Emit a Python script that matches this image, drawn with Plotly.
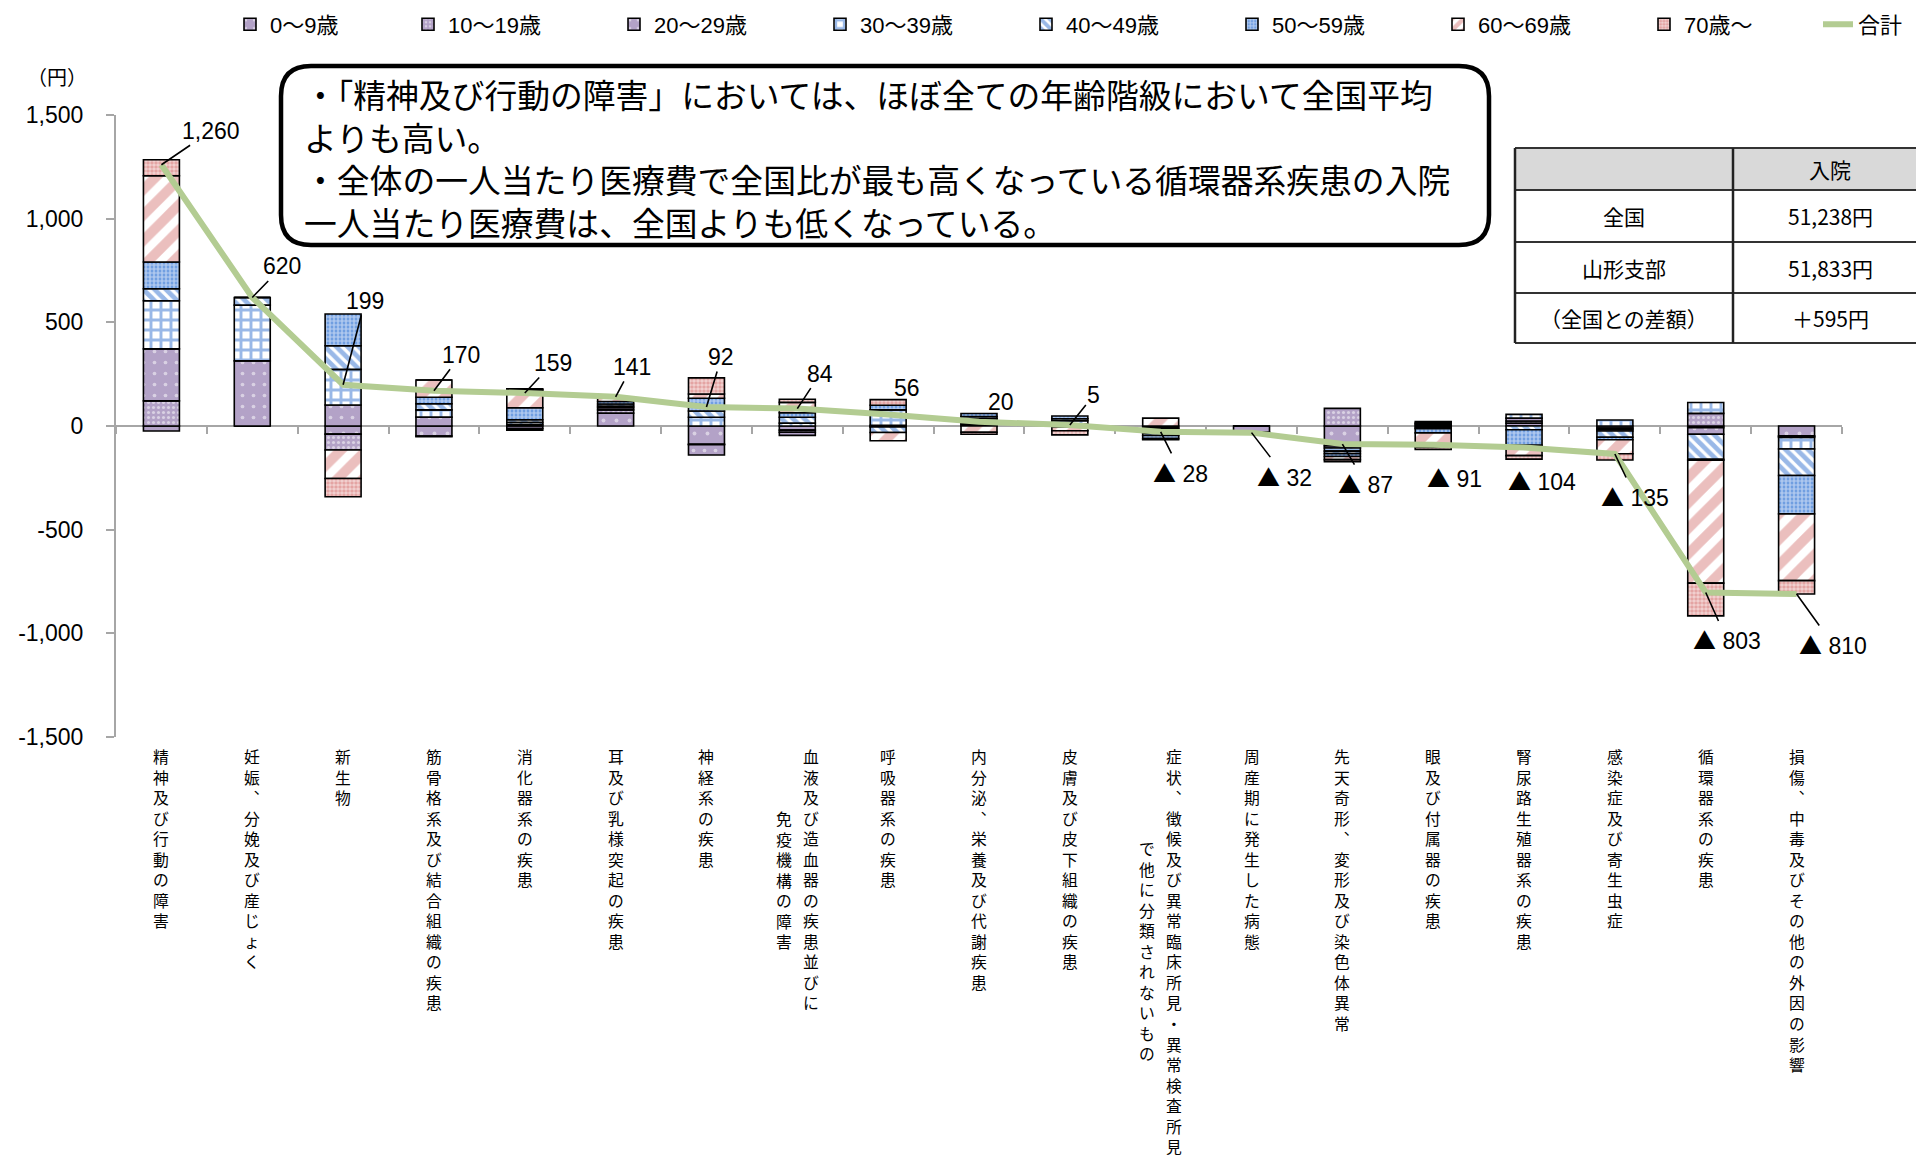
import plotly.graph_objects as go

# ---------------- data ----------------
categories = [
    "精神及び行動の障害",
    "妊娠、分娩及び産じょく",
    "新生物",
    "筋骨格系及び結合組織の疾患",
    "消化器系の疾患",
    "耳及び乳様突起の疾患",
    "神経系の疾患",
    "血液及び造血器の疾患並びに\n免疫機構の障害",
    "呼吸器系の疾患",
    "内分泌、栄養及び代謝疾患",
    "皮膚及び皮下組織の疾患",
    "症状、徴候及び異常臨床所見・異常検査所見\nで他に分類されないもの",
    "周産期に発生した病態",
    "先天奇形、変形及び染色体異常",
    "眼及び付属器の疾患",
    "腎尿路生殖器系の疾患",
    "感染症及び寄生虫症",
    "循環器系の疾患",
    "損傷、中毒及びその他の外因の影響",
]

age_0_9   = [-24,   0,  -39, -48, -12, 62, -88, -20,  -3,   8,   5,  -8, -30, -96,   8,  14, -10,   -8,  -47]
age_10_19 = [121,   0,  -77,  -4,  -8, 16,  -2, -10,  -2,   5,  -5,  -6,  -2,  85,   6,  10,  -6,   61,   -4]
age_20_29 = [251, 314,  101,  43,   8, 10, -50, -15,   3,  10,   5, -10,   0, -10,   8,  14,  -8,  -32,   -4]
age_30_39 = [232, 269,  172,  35,  10,  8,  42,  14,  75,  12,  15, -12,   0, -15,  -8,  18,  29,   52,  -56]
age_40_49 = [ 58,  37,  114,  29,  12, 10,  30,  28, -26,  10,  10, -10,   0, -12,  -5, -18, -30, -121, -128]
age_50_59 = [129,   0,  153,  32,  58, 12,  62,  22,  22,  15,  13, -15,   0, -14, -20, -75, -12,   -4, -185]
age_60_69 = [416,   0, -137,  83,  86, 18,  20,  50, -40, -30, -18,  38,   0, -15, -70, -50, -68, -593, -322]
age_70    = [ 77,   0,  -88,   0,   5,  5,  78,  15,  27, -10, -20,  -5,   0, -10, -10, -17, -30, -158,  -64]

totals = [1260, 620, 199, 170, 159, 141, 92, 84, 56, 20, 5, -28, -32, -87, -91, -104, -135, -803, -810]

series_names = ["0～9歳", "10～19歳", "20～29歳", "30～39歳", "40～49歳", "50～59歳", "60～69歳", "70歳～"]
total_name = "合計"

y_tick_vals = [-1500, -1000, -500, 0, 500, 1000, 1500]
y_tick_text = ["-1,500", "-1,000", "-500", "0", "500", "1,000", "1,500"]
y_unit = "（円）"

note_lines = [
    "・「精神及び行動の障害」においては、ほぼ全ての年齢階級において全国平均",
    "よりも高い。",
    "・全体の一人当たり医療費で全国比が最も高くなっている循環器系疾患の入院",
    "一人当たり医療費は、全国よりも低くなっている。",
]

table_header = "入院"
table_row_labels = ["全国", "山形支部", "（全国との差額）"]
table_row_values = ["51,238円", "51,833円", "＋595円"]

# ---------------- layout helpers ----------------
FIG_W, FIG_H = 1916, 1160
ML, MR, MT, MB = 116, 74, 115, 423
PW = FIG_W - ML - MR
PH = FIG_H - MT - MB


def X(px):
    return (px - ML) / PW


def Y(py):
    return (FIG_H - MB - py) / PH


JP = "Noto Sans CJK JP"
AR = "Liberation Sans, Arial, DejaVu Sans"
BLUE = "#3372d0"
PINK = "#d77f7e"
PURPLE = "#b3a2c7"

patterns = [
    dict(shape=".", bgcolor=PURPLE, fgcolor="#ffffff", size=13, solidity=0.07),
    dict(shape=".", bgcolor=PURPLE, fgcolor="#ffffff", size=5, solidity=0.3),
    dict(shape=".", bgcolor=PURPLE, fgcolor="#ffffff", size=11, solidity=0.09),
    dict(shape="+", bgcolor="#ffffff", fgcolor=BLUE, size=10, solidity=0.5),
    dict(shape="\\", bgcolor="#ffffff", fgcolor=BLUE, size=8, solidity=0.6),
    dict(shape=".", bgcolor="#5a8fdc", fgcolor="#ffffff", size=4, solidity=0.7),
    dict(shape="/", bgcolor="#ffffff", fgcolor=PINK, size=18, solidity=0.55),
    dict(shape=".", bgcolor="#e29e9d", fgcolor="#ffffff", size=4, solidity=0.65),
]
# which legend block each series sits in (first one separate so spacing follows label widths)
legend_ids = ["legend3", "legend", "legend", "legend", "legend", "legend", "legend", "legend"]

series_values = [age_0_9, age_10_19, age_20_29, age_30_39, age_40_49, age_50_59, age_60_69, age_70]

fig = go.Figure()
for name, vals, pat, lg in zip(series_names, series_values, patterns, legend_ids):
    fig.add_trace(go.Bar(
        x=categories, y=vals, name=name, legend=lg,
        marker=dict(color=pat["bgcolor"], pattern=pat, line=dict(color="black", width=1.6)),
        hoverinfo="skip",
    ))

fig.add_trace(go.Scatter(
    x=categories, y=totals, name=total_name, mode="lines", legend="legend2",
    line=dict(color="#b3cc92", width=6), hoverinfo="skip",
))

annotations = []

# total labels
label_offsets = [(50, -34), (30, -31), (22, -84), (27, -36), (28, -30), (16, -30), (15, -50), (23, -35),
                 (19, -26), (22, -20), (24, -30), (20, 40), (33, 43), (23, 39), (21, 32), (18, 32),
                 (20, 42), (21, 47), (36, 50)]
label_leader = [1, 1, 1, 1, 1, 1, 1, 1, 0, 0, 1, 1, 1, 1, 0, 0, 1, 1, 1]
TRI = f"<span style=\"font-family:'{JP}'\">▲</span>"
for i, (cat, v) in enumerate(zip(categories, totals)):
    txt = f"{v:,}" if v >= 0 else f"{TRI} {abs(v)}"
    ax, ay = label_offsets[i]
    base = dict(x=cat, y=v, xref="x", yref="y", text=txt, xanchor="center", yanchor="middle",
                font=dict(family=AR, size=23, color="black"))
    if label_leader[i]:
        base.update(showarrow=True, arrowhead=0, arrowwidth=1.6, arrowcolor="black", ax=ax, ay=ay)
    else:
        base.update(showarrow=False, xshift=ax, yshift=-ay)
    annotations.append(base)

# vertical category labels (one character per line, one text per column)
VERT = {"、": "︑"}
CAT_FONT = 15.8
PITCH = CAT_FONT * 1.3
for cat in categories:
    cols = cat.split("\n")
    n0 = len(cols[0])
    shifts = [0] if len(cols) == 1 else [13.5, -13.5]
    for col, xs in zip(cols, shifts):
        off = (n0 - len(col)) / 2 * PITCH
        annotations.append(dict(
            x=cat, y=0, xref="x", yref="paper",
            text="<br>".join(VERT.get(ch, ch) for ch in col), showarrow=False,
            xshift=xs, yshift=-(6 + off), xanchor="center", yanchor="top",
            font=dict(family=JP, size=CAT_FONT, color="black"),
        ))

# y unit
annotations.append(dict(x=X(57), y=Y(77), xref="paper", yref="paper", text=y_unit, showarrow=False,
                        xanchor="center", yanchor="middle", font=dict(family=JP, size=20, color="black")))

# note box text
annotations.append(dict(x=X(302), y=Y(157), xref="paper", yref="paper", xanchor="left", yanchor="middle",
                        align="left", text="<br>".join(note_lines), showarrow=False,
                        font=dict(family=JP, size=32.8, color="black")))

shapes = []


def rounded(x0, y0, x1, y1, r):
    return (f"M {X(x0 + r)},{Y(y0)} L {X(x1 - r)},{Y(y0)} Q {X(x1)},{Y(y0)} {X(x1)},{Y(y0 + r)} "
            f"L {X(x1)},{Y(y1 - r)} Q {X(x1)},{Y(y1)} {X(x1 - r)},{Y(y1)} "
            f"L {X(x0 + r)},{Y(y1)} Q {X(x0)},{Y(y1)} {X(x0)},{Y(y1 - r)} "
            f"L {X(x0)},{Y(y0 + r)} Q {X(x0)},{Y(y0)} {X(x0 + r)},{Y(y0)} Z")


shapes.append(dict(type="path", xref="paper", yref="paper", path=rounded(281, 66, 1489, 245, 30),
                   line=dict(color="black", width=4.5), fillcolor="white", layer="below"))

# table
tx0, tx1, tx2 = 1515, 1733, 1945
trows = [148, 190, 242, 293, 343]
shapes.append(dict(type="rect", xref="paper", yref="paper", x0=X(tx0), x1=X(tx2), y0=Y(trows[1]), y1=Y(trows[0]),
                   fillcolor="#d9d9d9", line=dict(width=0), layer="above"))
for yy in trows:
    shapes.append(dict(type="line", xref="paper", yref="paper", x0=X(tx0), x1=X(tx2), y0=Y(yy), y1=Y(yy),
                       line=dict(color="#333333", width=2)))
for xx in (tx0, tx1):
    shapes.append(dict(type="line", xref="paper", yref="paper", x0=X(xx), x1=X(xx), y0=Y(trows[0]), y1=Y(trows[-1]),
                       line=dict(color="#222222", width=2.5)))
col1c, col2c = (tx0 + tx1) / 2, 1830
annotations.append(dict(x=X(col2c), y=Y((trows[0] + trows[1]) / 2), xref="paper", yref="paper", text=table_header,
                        showarrow=False, xanchor="center", yanchor="middle",
                        font=dict(family=JP, size=21, color="black")))
for k, (lab, val) in enumerate(zip(table_row_labels, table_row_values)):
    yc = Y((trows[k + 1] + trows[k + 2]) / 2)
    annotations.append(dict(x=X(col1c), y=yc, xref="paper", yref="paper", text=lab, showarrow=False,
                            xanchor="center", yanchor="middle", font=dict(family=JP, size=21, color="black")))
    annotations.append(dict(x=X(col2c), y=yc, xref="paper", yref="paper", text=val, showarrow=False,
                            xanchor="center", yanchor="middle", font=dict(family=JP, size=21, color="black")))

legend_font = dict(family="Liberation Sans, " + JP, size=22, color="black")
common_legend = dict(orientation="h", xanchor="left", yref="container", y=0.997, yanchor="top",
                     font=legend_font, bgcolor="rgba(0,0,0,0)")
fig.update_layout(
    width=FIG_W, height=FIG_H,
    margin=dict(l=ML, r=MR, t=MT, b=MB, autoexpand=False),
    paper_bgcolor="white", plot_bgcolor="white",
    barmode="relative", bargap=0.604,
    showlegend=True,
    legend3=dict(common_legend, x=X(230)),
    legend=dict(common_legend, x=X(408), entrywidth=161, entrywidthmode="pixels", traceorder="normal"),
    legend2=dict(common_legend, x=X(1818)),
    xaxis=dict(type="category", categoryorder="array", categoryarray=categories, range=[-0.5, 18.5],
               anchor="free", position=0.5, showline=True, linecolor="#a6a6a6", linewidth=2,
               ticks="outside", tickson="boundaries", ticklen=7, tickcolor="#a6a6a6", tickwidth=1.5,
               showticklabels=False, showgrid=False, zeroline=False, layer="below traces"),
    yaxis=dict(range=[-1500, 1500], tickvals=y_tick_vals, ticktext=y_tick_text, showline=True,
               linecolor="#a6a6a6", linewidth=2, ticks="outside", ticklen=8, tickcolor="#a6a6a6",
               tickwidth=1.5, showgrid=False, zeroline=False, ticklabelstandoff=18,
               tickfont=dict(family=AR, size=23, color="black")),
    annotations=annotations,
    shapes=shapes,
)

fig.write_html("out.html")
